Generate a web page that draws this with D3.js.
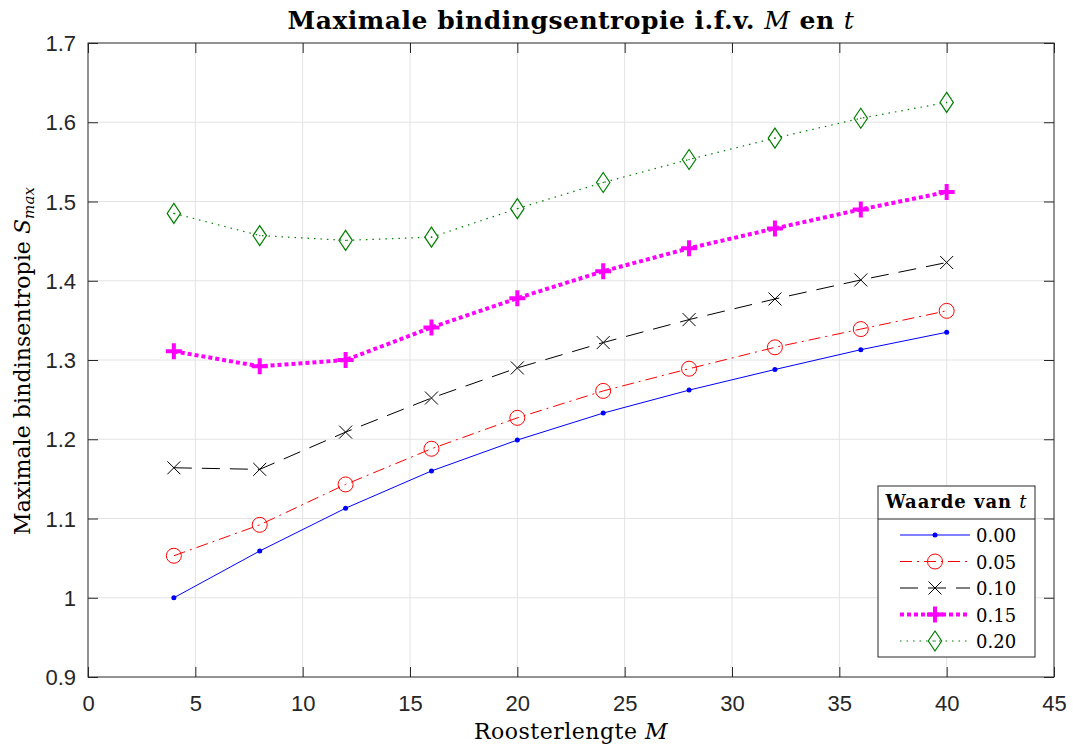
<!DOCTYPE html>
<html>
<head>
<meta charset="utf-8">
<script src="https://cdn.jsdelivr.net/npm/d3@7"></script>
<style>
  body { margin: 0; background: #fff; }
  .serif { font-family: "DejaVu Serif", "Liberation Serif", serif; fill: #000; }
</style>
</head>
<body>
<div id="chart"></div>
<script>
// ----------------------------------
// DATA
// ----------------------------------
const latticeM = [4, 8, 12, 16, 20, 24, 28, 32, 36, 40];
const tLabels = ['0.00', '0.05', '0.10', '0.15', '0.20'];

const s000 = [1.000, 1.059, 1.113, 1.160, 1.199, 1.233, 1.262, 1.288, 1.313, 1.335];
const s005 = [1.053, 1.092, 1.143, 1.188, 1.227, 1.261, 1.289, 1.316, 1.339, 1.362];
const s010 = [1.164, 1.162, 1.209, 1.252, 1.290, 1.322, 1.351, 1.377, 1.401, 1.423];
const s015 = [1.311, 1.292, 1.300, 1.341, 1.378, 1.412, 1.441, 1.466, 1.490, 1.512];
const s020 = [1.485, 1.457, 1.451, 1.455, 1.491, 1.524, 1.553, 1.580, 1.605, 1.625];

const xTicks = [0, 5, 10, 15, 20, 25, 30, 35, 40, 45];
const yTicks = [0.9, 1, 1.1, 1.2, 1.3, 1.4, 1.5, 1.6, 1.7];

// styling per series
const styles = [
  { color: '#0000ff', width: 1,   dash: null,        marker: 'dot' },
  { color: '#ff0000', width: 1,   dash: '12,5,2,5',  marker: 'circle' },
  { color: '#000000', width: 1,   dash: '18,10',     marker: 'cross' },
  { color: '#ff00ff', width: 4,   dash: '4,3',       marker: 'plus' },
  { color: '#007f00', width: 1.2, dash: '1.5,5',     marker: 'diamond' }
];

const series = [s000, s005, s010, s015, s020].map((vals, i) => ({
  label: tLabels[i],
  style: styles[i],
  points: latticeM.map((m, j) => ({ m: m, s: vals[j] }))
}));

// ----------------------------------
// SETUP
// ----------------------------------
const width = 1073, height = 749;
const margin = { top: 43, right: 19, bottom: 72, left: 88 };
const innerWidth = width - margin.left - margin.right;
const innerHeight = height - margin.top - margin.bottom;

const svg = d3.select('#chart').append('svg')
  .attr('width', width)
  .attr('height', height);

const xScale = d3.scaleLinear().domain([0, 45]).range([0, innerWidth]);
const yScale = d3.scaleLinear().domain([0.9, 1.7]).range([innerHeight, 0]);

const g = svg.append('g')
  .attr('transform', `translate(${margin.left},${margin.top})`);

// grid
g.append('g').selectAll('line').data(xTicks.slice(1, -1)).enter().append('line')
  .attr('x1', d => xScale(d)).attr('x2', d => xScale(d))
  .attr('y1', 0).attr('y2', innerHeight)
  .attr('stroke', '#e3e3e3').attr('stroke-width', 1);
g.append('g').selectAll('line').data(yTicks.slice(1, -1)).enter().append('line')
  .attr('y1', d => yScale(d)).attr('y2', d => yScale(d))
  .attr('x1', 0).attr('x2', innerWidth)
  .attr('stroke', '#e3e3e3').attr('stroke-width', 1);

// axes (ticks inward, MATLAB box style)
const axisColor = '#262626';
const tickLen = 10;

function styleAxis(sel) {
  sel.select('.domain').remove();
  sel.attr('font-family', '"Liberation Sans", Arial, sans-serif').attr('font-size', 22);
  sel.selectAll('.tick line').attr('stroke', axisColor);
  sel.selectAll('.tick text').attr('fill', axisColor);
}
function noLabels(sel) {
  sel.selectAll('.tick text').remove();
}

g.append('g')
  .attr('transform', `translate(0,${innerHeight})`)
  .call(d3.axisBottom(xScale).tickValues(xTicks).tickSizeInner(-tickLen).tickSizeOuter(0).tickPadding(18).tickFormat(d3.format('d')))
  .call(styleAxis)
  .call(sel => sel.selectAll('.tick text').attr('dy', null).attr('y', 34));
g.append('g')
  .call(d3.axisTop(xScale).tickValues(xTicks).tickSizeInner(-tickLen).tickSizeOuter(0))
  .call(styleAxis).call(noLabels);
g.append('g')
  .call(d3.axisLeft(yScale).tickValues(yTicks).tickSizeInner(-tickLen).tickSizeOuter(0).tickPadding(12).tickFormat(d => d === 1 ? '1' : d3.format('.1f')(d)))
  .call(styleAxis)
  .call(sel => sel.selectAll('.tick text').attr('dy', null).attr('y', 7.5));
g.append('g')
  .attr('transform', `translate(${innerWidth},0)`)
  .call(d3.axisRight(yScale).tickValues(yTicks).tickSizeInner(-tickLen).tickSizeOuter(0))
  .call(styleAxis).call(noLabels);

g.append('rect')
  .attr('width', innerWidth).attr('height', innerHeight)
  .attr('fill', 'none').attr('stroke', axisColor).attr('stroke-width', 1);

// ----------------------------------
// MARKERS
// ----------------------------------
function drawMarker(sel, type, color) {
  if (type === 'dot') {
    sel.append('circle').attr('r', 2.5).attr('fill', color);
  } else if (type === 'circle') {
    sel.append('circle').attr('r', 7.5).attr('fill', 'none').attr('stroke', color).attr('stroke-width', 1);
  } else if (type === 'cross') {
    sel.append('path').attr('d', 'M-6.5,-6.5L6.5,6.5M-6.5,6.5L6.5,-6.5').attr('stroke', color).attr('stroke-width', 1).attr('fill', 'none');
  } else if (type === 'plus') {
    sel.append('path').attr('d', 'M-8,0L8,0M0,-8L0,8').attr('stroke', color).attr('stroke-width', 4).attr('fill', 'none');
  } else if (type === 'diamond') {
    sel.append('path').attr('d', 'M0,-10L6.7,0L0,10L-6.7,0Z').attr('stroke', color).attr('stroke-width', 1.2).attr('fill', 'none');
    sel.append('circle').attr('r', 0.7).attr('fill', color);
  }
}

// ----------------------------------
// LINES
// ----------------------------------
const line = d3.line().x(d => xScale(d.m)).y(d => yScale(d.s));

series.forEach(sr => {
  const sg = g.append('g');
  sg.append('path')
    .datum(sr.points)
    .attr('d', line)
    .attr('fill', 'none')
    .attr('stroke', sr.style.color)
    .attr('stroke-width', sr.style.width)
    .attr('stroke-dasharray', sr.style.dash);
  sg.selectAll('g.mk').data(sr.points).enter().append('g')
    .attr('class', 'mk')
    .attr('transform', d => `translate(${xScale(d.m)},${yScale(d.s)})`)
    .each(function () { drawMarker(d3.select(this), sr.style.marker, sr.style.color); });
});

// ----------------------------------
// TEXT
// ----------------------------------
// stretch/shrink letter spacing so a label takes the width the LaTeX font had
function fitWidth(sel, target) {
  const node = sel.node();
  const w = node.getComputedTextLength();
  const n = node.textContent.length;
  sel.attr('letter-spacing', ((target - w) / n).toFixed(2));
}

const title = svg.append('text').attr('class', 'serif')
  .attr('x', margin.left + innerWidth / 2).attr('y', 29)
  .attr('text-anchor', 'middle').attr('font-size', 25).attr('font-weight', 'bold');
title.append('tspan').text('Maximale bindingsentropie i.f.v. ');
title.append('tspan').attr('font-style', 'italic').attr('font-weight', 'normal').text('M');
title.append('tspan').text(' en ');
title.append('tspan').attr('font-style', 'italic').attr('font-weight', 'normal').text('t');
fitWidth(title, 567);

const xLabel = svg.append('text').attr('class', 'serif')
  .attr('x', margin.left + innerWidth / 2).attr('y', 739)
  .attr('text-anchor', 'middle').attr('font-size', 22);
xLabel.append('tspan').text('Roosterlengte ');
xLabel.append('tspan').attr('font-style', 'italic').text('M');
fitWidth(xLabel, 194);

const yLabel = svg.append('text').attr('class', 'serif')
  .attr('transform', `translate(30,${margin.top + innerHeight / 2 + 1}) rotate(-90)`)
  .attr('text-anchor', 'middle').attr('font-size', 22);
yLabel.append('tspan').text('Maximale bindinsentropie ');
yLabel.append('tspan').attr('font-style', 'italic').text('S');
yLabel.append('tspan').attr('font-style', 'italic').attr('font-size', 15).attr('dy', 4).text('max');
fitWidth(yLabel, 348);

// ----------------------------------
// LEGEND
// ----------------------------------
const lg = svg.append('g').attr('transform', 'translate(878,486)');
const lgW = 157, lgH = 171, lgHead = 33, rowH = 26.5;
lg.append('rect').attr('width', lgW).attr('height', lgH)
  .attr('fill', '#fff').attr('stroke', axisColor).attr('stroke-width', 1);
lg.append('line').attr('x1', 0).attr('x2', lgW).attr('y1', lgHead).attr('y2', lgHead)
  .attr('stroke', axisColor).attr('stroke-width', 1);
const lgTitle = lg.append('text').attr('class', 'serif')
  .attr('x', lgW / 2).attr('y', 22).attr('text-anchor', 'middle')
  .attr('font-size', 18).attr('font-weight', 'bold');
lgTitle.append('tspan').text('Waarde van ');
lgTitle.append('tspan').attr('font-style', 'italic').attr('font-weight', 'normal').text('t');
fitWidth(lgTitle, 142);

series.forEach((sr, i) => {
  const ry = 49 + i * rowH;
  const row = lg.append('g').attr('transform', `translate(0,${ry})`);
  row.append('line').attr('x1', 22).attr('x2', 92).attr('y1', 0).attr('y2', 0)
    .attr('stroke', sr.style.color).attr('stroke-width', sr.style.width)
    .attr('stroke-dasharray', sr.style.dash);
  const mk = row.append('g').attr('transform', 'translate(57,0)');
  drawMarker(mk, sr.style.marker, sr.style.color);
  row.append('text').attr('class', 'serif')
    .attr('x', 98).attr('y', 7).attr('font-size', 18).text(sr.label);
});
</script>
</body>
</html>
